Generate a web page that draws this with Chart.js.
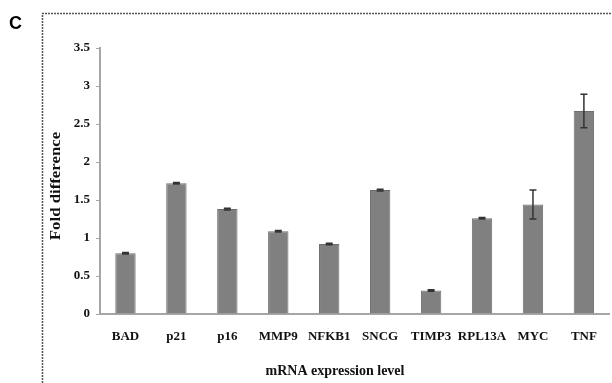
<!DOCTYPE html>
<html>
<head>
<meta charset="utf-8">
<script src="https://cdn.jsdelivr.net/npm/chart.js@4/dist/chart.umd.min.js"></script>
<style>
  html, body { margin: 0; padding: 0; background: #fff; }
  #wrap { width: 612px; height: 383px; }
</style>
</head>
<body>
<div id="wrap"><canvas id="foldChart" width="612" height="383"></canvas></div>
<script>
var genes = ['BAD', 'p21', 'p16', 'MMP9', 'NFKB1', 'SNCG', 'TIMP3', 'RPL13A', 'MYC', 'TNF'];
var foldValues = [0.80, 1.72, 1.38, 1.09, 0.92, 1.63, 0.31, 1.26, 1.44, 2.67];
var foldErrors = [0.01, 0.01, 0.01, 0.01, 0.01, 0.01, 0.01, 0.01, 0.19, 0.22];
var yTicks = [0, 0.5, 1, 1.5, 2, 2.5, 3, 3.5];

var serif = '"Liberation Serif", "Times New Roman", serif';

// dashed frame, panel letter and axis titles
var framePlugin = {
    id: 'frame',
    beforeDraw: function (chart) {
        var ctx = chart.ctx;
        ctx.save();
        ctx.fillStyle = '#fff';
        ctx.fillRect(0, 0, chart.width, chart.height);
        ctx.strokeStyle = '#555';
        ctx.lineWidth = 1.5;
        ctx.setLineDash([2, 1]);
        ctx.beginPath();
        ctx.moveTo(42.5, chart.height);
        ctx.lineTo(42.5, 13.5);
        ctx.lineTo(chart.width, 13.5);
        ctx.stroke();
        ctx.setLineDash([]);
        ctx.fillStyle = '#000';
        ctx.font = 'bold 18px "Liberation Sans", Arial, sans-serif';
        ctx.textBaseline = 'middle';
        ctx.fillText('C', 9, 24);
        ctx.restore();
    },
    afterDraw: function (chart) {
        var ctx = chart.ctx;
        ctx.save();
        ctx.fillStyle = '#111';
        ctx.textAlign = 'center';
        ctx.textBaseline = 'middle';
        ctx.font = 'bold 14px ' + serif;
        ctx.fillText('mRNA expression level', 335, 371);
        ctx.translate(56, 186);
        ctx.rotate(-Math.PI / 2);
        ctx.scale(1.2, 1);
        ctx.font = 'bold 14px ' + serif;
        ctx.fillText('Fold difference', 0, 0);
        ctx.restore();
    }
};

// error bars
var errorBarPlugin = {
    id: 'errorBars',
    afterDatasetsDraw: function (chart) {
        var ctx = chart.ctx;
        var x = chart.scales.x, y = chart.scales.y;
        ctx.save();
        ctx.strokeStyle = '#333';
        ctx.lineWidth = 1.5;
        foldValues.forEach(function (v, i) {
            var cx = x.getPixelForValue(i);
            var top = y.getPixelForValue(v + foldErrors[i]);
            var bot = y.getPixelForValue(v - foldErrors[i]);
            ctx.beginPath();
            ctx.moveTo(cx, top); ctx.lineTo(cx, bot);
            ctx.moveTo(cx - 3.5, top); ctx.lineTo(cx + 3.5, top);
            ctx.moveTo(cx - 3.5, bot); ctx.lineTo(cx + 3.5, bot);
            ctx.stroke();
        });
        ctx.restore();
    }
};

var ctx = document.getElementById('foldChart').getContext('2d');
var foldChart = new Chart(ctx, {
    type: 'bar',
    data: {
        labels: genes,
        datasets: [{
            label: 'Fold difference',
            data: foldValues,
            backgroundColor: '#808080',
            borderColor: '#6e6e6e',
            borderWidth: 1,
            barPercentage: 0.4,
            categoryPercentage: 1
        }]
    },
    options: {
        responsive: false,
        animation: false,
        devicePixelRatio: 1,
        layout: { padding: { top: 48, right: 2, left: 0, bottom: 0 } },
        plugins: {
            legend: { display: false },
            tooltip: { enabled: false }
        },
        scales: {
            x: {
                grid: { display: false, drawTicks: false },
                border: { display: true, color: '#a6a6a6', width: 2 },
                ticks: {
                    color: '#111',
                    padding: 15,
                    maxRotation: 0,
                    autoSkip: false,
                    font: { family: serif, size: 13, weight: 'bold' }
                },
                afterFit: function (s) { s.height = 69; }
            },
            y: {
                min: 0,
                max: 3.5,
                afterBuildTicks: function (s) {
                    s.ticks = yTicks.map(function (v) { return { value: v }; });
                },
                grid: {
                    display: true,
                    drawOnChartArea: false,
                    drawTicks: true,
                    tickLength: 4,
                    color: '#a6a6a6'
                },
                border: { display: true, color: '#a6a6a6', width: 2 },
                ticks: {
                    color: '#111',
                    padding: 6,
                    font: { family: serif, size: 13, weight: 'bold' },
                    callback: function (v) { return String(v); }
                },
                afterFit: function (s) { s.width = 100; }
            }
        }
    },
    plugins: [framePlugin, errorBarPlugin]
});
</script>
</body>
</html>
